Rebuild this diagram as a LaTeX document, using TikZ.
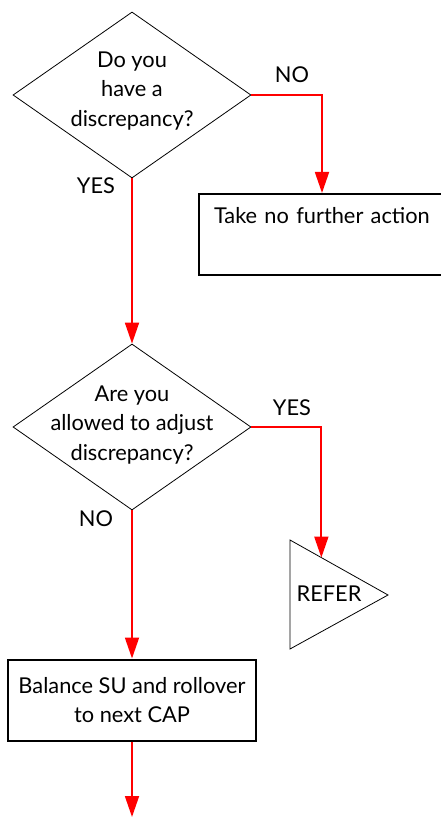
\documentclass[tikz,border=0pt]{standalone}
\usepackage{fontspec}
\setmainfont{Lato}
\usetikzlibrary{shapes.geometric,arrows.meta,calc}

\begin{document}
\begin{tikzpicture}[
  x=1pt,y=-1pt,
  font=\fontsize{21.8}{29.5}\selectfont,
  decision/.style={diamond,draw=black,line width=0.8pt,minimum width=238pt,
    minimum height=166pt,inner sep=0pt},
  question/.style={align=center,inner sep=0pt},
  action/.style={draw=black,line width=2pt,minimum height=81pt},
  answer/.style={inner sep=0pt},
  flow/.style={red,line width=1.8pt,-{Triangle[length=21pt,width=14pt]}}]
  \useasboundingbox (0,0) rectangle (441,818);

% First question
  \node[decision] (q1) at (132,95) {};
  \node[question] (q1text) at (132,91) {Do you\\have a\\discrepancy?};
  \node[action,minimum width=246pt,text width=216pt,align=left,
    anchor=north west] (none) at (198,193) {Take no further action\\\strut};

% Second question
  \node[decision] (q2) at (132,427) {};
  \node[question] (q2text) at (132,425) {Are you\\allowed to adjust\\discrepancy?};

  % Refer triangle, tip pointing right
  \coordinate (refer-top) at (290,540);
  \coordinate (refer-tip) at (388,595);
  \coordinate (refer-bot) at (290,649);
  \draw[line width=0.8pt] (refer-top) -- (refer-tip) -- (refer-bot) -- cycle;
  \node (refer) at (329,594) {REFER};
  \coordinate (refer-in) at ($(refer-top)!0.32!(refer-tip)$);

  \node[action,minimum width=248pt,align=center] (balance) at (132,700)
    {Balance SU and rollover\\to next CAP};
  \coordinate (stop) at (132,817);

  % YES / NO labels, the loop places all four
  \foreach \i/\x/\y/\t in {1/292/75/NO,2/96/186/YES,3/292/408/YES,4/96/519/NO}
    \node[answer] (ans\i) at (\x,\y) {\t};

  \draw[flow] (q1.east) -| (none.north);
  \draw[flow] (q1.south) -- (q2.north);
  \draw[flow] (q2.east) -| (refer-in);
  \draw[flow] (q2.south) -- (balance.north);
  \draw[flow] (balance.south) -- (stop);
\end{tikzpicture}
\end{document}
